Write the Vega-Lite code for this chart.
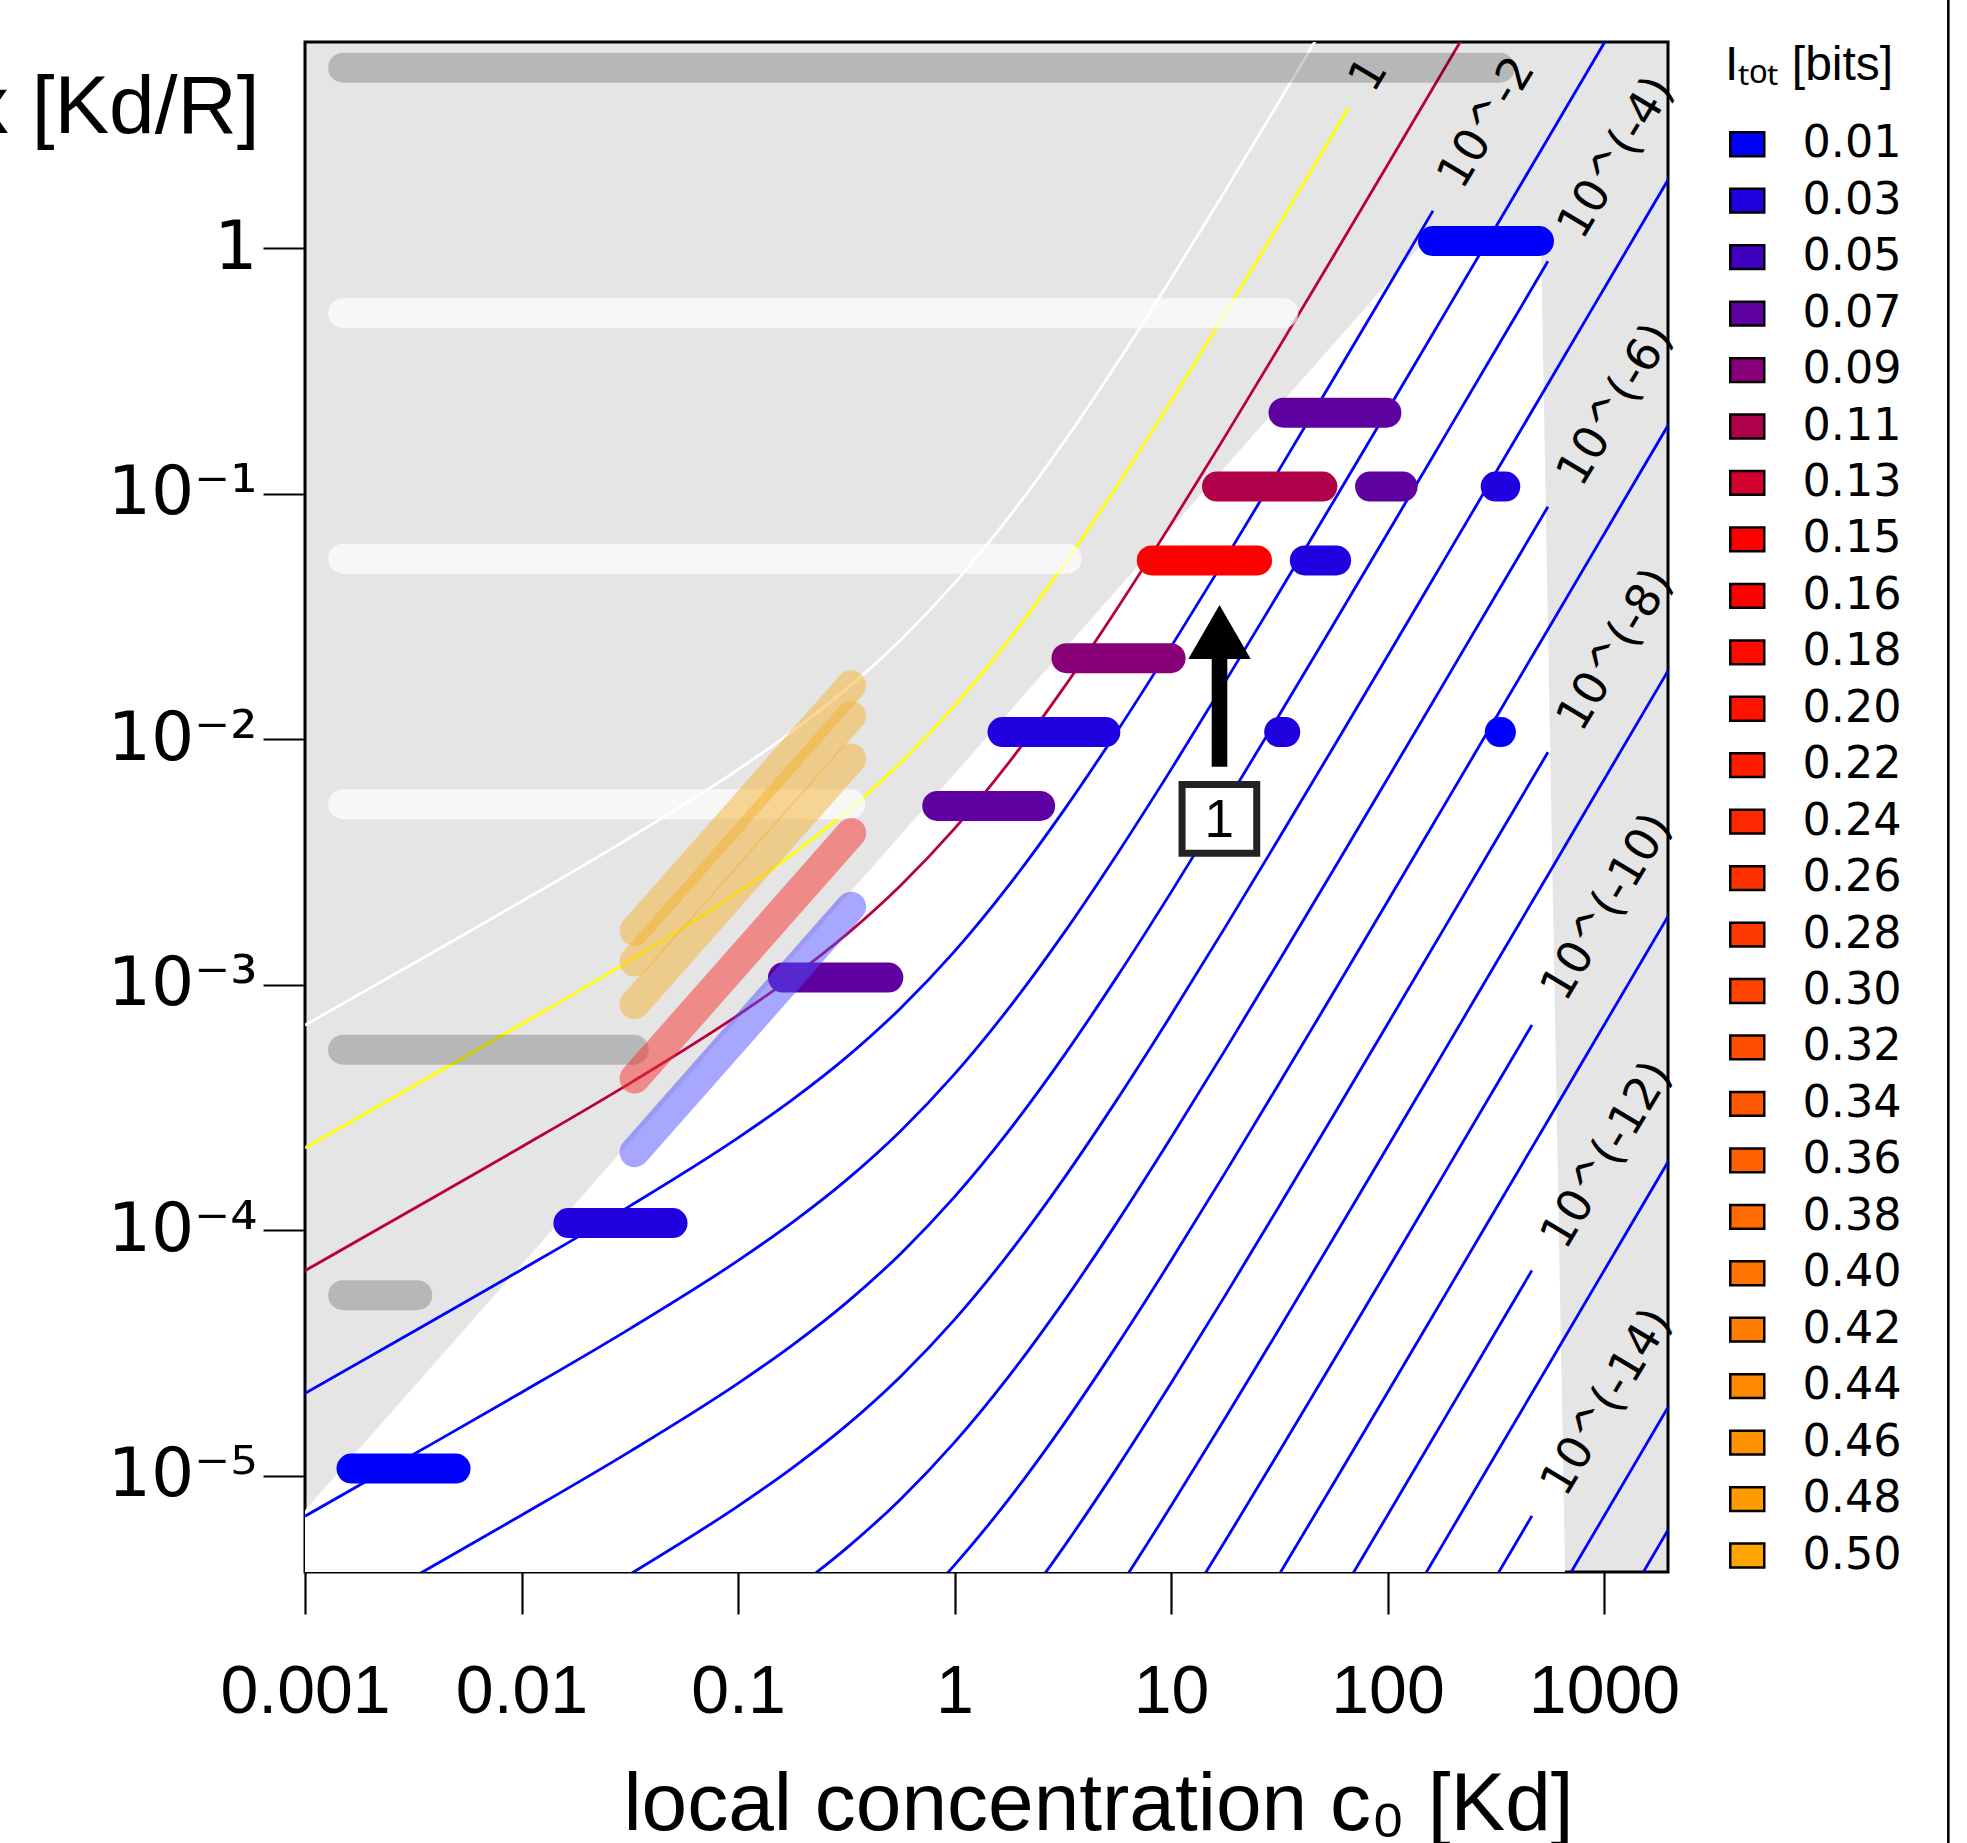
{
"$schema":"https://vega.github.io/schema/vega-lite/v6.json",
"width":1363,"height":1530,
"autosize":{"type":"none"},
"padding":{"left":305,"top":42,"right":299,"bottom":271},
"background":"white",
"config":{
 "font":"Liberation Sans",
 "view":{"fill":"#e5e5e5","stroke":"black","strokeWidth":3},
 "axis":{"grid":false,"domain":false,"tickColor":"black","tickWidth":2.2,"tickSize":42,"labelColor":"black","labelFont":"Liberation Sans","labelFontSize":68,"titleFont":"Liberation Sans","titleFontSize":82,"titleFontWeight":"normal","titleColor":"black"},
 "legend":{"labelFont":"DejaVu Sans","titleFont":"Liberation Sans","labelColor":"black","titleColor":"black"}
},
"resolve":{"legend":{"color":"independent"}},
"datasets":{
 "white":[{"c":0.001,"y":7.234e-6},{"c":147.9,"y":1.07},{"c":511.6,"y":1.07},{"c":660.6,"y":4.055e-6}],
 "contours":[
  {"k":-1,"c":[0.001,0.003162,0.01,0.03162,0.1,0.1778,0.3162,0.5623,1,1.778,3.162,5.623,10,17.78,31.62,56.23,100],"y":[6.846e-4,1.22e-3,2.1842e-3,3.9674e-3,7.523e-3,1.0742e-2,1.6006e-2,2.5339e-2,4.3251e-2,8.013e-2,0.16006,0.33969,0.7523,1.7133,3.9674,9.2824,21.842]},
  {"k":0,"c":[0.001,0.003162,0.01,0.03162,0.1,0.1778,0.3162,0.5623,1,1.778,3.162,5.623,10,17.78,31.62,56.23,66.37],"y":[2.165e-4,3.858e-4,6.907e-4,1.2546e-3,2.379e-3,3.397e-3,5.0615e-3,8.013e-3,1.3677e-2,2.534e-2,5.0615e-2,0.10742,0.2379,0.5418,1.2546,2.9353,3.754]},
  {"k":1,"c":[0.001,0.003162,0.01,0.03162,0.1,0.1778,0.3162,0.5623,1,1.778,3.162,5.623,10,17.78,31.62,56.23,100,177.8,316.2],"y":[6.846e-5,1.22e-4,2.1842e-4,3.9674e-4,7.523e-4,1.0742e-3,1.6006e-3,2.5339e-3,4.3251e-3,8.013e-3,1.6006e-2,3.3969e-2,7.523e-2,0.17133,0.39674,0.92824,2.1842,5.158,12.201]},
  {"k":2,"c":[0.001,0.003162,0.01,0.03162,0.1,0.1778,0.3162,0.5623,1,1.778,3.162,5.623,10,17.78,31.62,56.23,100,162.2],"y":[2.165e-5,3.858e-5,6.907e-5,1.2546e-4,2.379e-4,3.397e-4,5.0615e-4,8.013e-4,1.3677e-3,2.534e-3,5.0615e-3,1.0742e-2,2.379e-2,5.418e-2,0.12546,0.29353,0.6907,1.4213]},
  {"k":3,"c":[0.001,0.003162,0.01,0.03162,0.1,0.1778,0.3162,0.5623,1,1.778,3.162,5.623,10,17.78,31.62,56.23,100,177.8,316.2,562.3,1000,1995],"y":[6.846e-6,1.22e-5,2.1842e-5,3.9674e-5,7.523e-5,1.0742e-4,1.6006e-4,2.5339e-4,4.3251e-4,8.013e-4,1.6006e-3,3.3969e-3,7.523e-3,1.7133e-2,3.9674e-2,9.2824e-2,0.21842,0.5158,1.2201,2.8884,6.8454,19.284]},
  {"k":4,"c":[0.001,0.003162,0.01,0.03162,0.1,0.1778,0.3162,0.5623,1,1.778,3.162,5.623,10,17.78,31.62,56.23,100,177.8,316.2,550.8],"y":[2.165e-6,3.858e-6,6.907e-6,1.2546e-5,2.379e-5,3.397e-5,5.0615e-5,8.013e-5,1.3677e-4,2.534e-4,5.0615e-4,1.0742e-3,2.379e-3,5.418e-3,1.2546e-2,2.9353e-2,6.907e-2,0.16311,0.38583,0.8858]},
  {"k":5,"c":[0.01,0.03162,0.1,0.1778,0.3162,0.5623,1,1.778,3.162,5.623,10,17.78,31.62,56.23,100,177.8,316.2,562.3,1000,1995],"y":[2.1842e-6,3.9674e-6,7.523e-6,1.0742e-5,1.6006e-5,2.5339e-5,4.3251e-5,8.013e-5,1.6006e-4,3.3969e-4,7.523e-4,1.7133e-3,3.9674e-3,9.2824e-3,2.1842e-2,5.158e-2,0.12201,0.28884,0.68454,1.9284]},
  {"k":6,"c":[0.03162,0.1,0.1778,0.3162,0.5623,1,1.778,3.162,5.623,10,17.78,31.62,56.23,100,177.8,316.2,550.8],"y":[1.2546e-6,2.379e-6,3.397e-6,5.0615e-6,8.013e-6,1.3677e-5,2.534e-5,5.0615e-5,1.0742e-4,2.379e-4,5.418e-4,1.2546e-3,2.9353e-3,6.907e-3,1.6311e-2,3.8583e-2,8.858e-2]},
  {"k":7,"c":[0.1778,0.3162,0.5623,1,1.778,3.162,5.623,10,17.78,31.62,56.23,100,177.8,316.2,562.3,1000,1995],"y":[1.0742e-6,1.6006e-6,2.5339e-6,4.3251e-6,8.013e-6,1.6006e-5,3.3969e-5,7.523e-5,1.7133e-4,3.9674e-4,9.2824e-4,2.1842e-3,5.158e-3,1.2201e-2,2.8884e-2,6.8454e-2,0.19284]},
  {"k":8,"c":[0.5623,1,1.778,3.162,5.623,10,17.78,31.62,56.23,100,177.8,316.2,550.8],"y":[8.013e-7,1.3677e-6,2.534e-6,5.0615e-6,1.0742e-5,2.379e-5,5.418e-5,1.2546e-4,2.9353e-4,6.907e-4,1.6311e-3,3.8583e-3,8.858e-3]},
  {"k":9,"c":[1.778,3.162,5.623,10,17.78,31.62,56.23,100,177.8,316.2,562.3,1000,1995],"y":[8.013e-7,1.6006e-6,3.3969e-6,7.523e-6,1.7133e-5,3.9674e-5,9.2824e-5,2.1842e-4,5.158e-4,1.2201e-3,2.8884e-3,6.8454e-3,1.9284e-2]},
  {"k":10,"c":[5.623,10,17.78,31.62,56.23,100,177.8,316.2,464.5],"y":[1.0742e-6,2.379e-6,5.418e-6,1.2546e-5,2.9353e-5,6.907e-5,1.6311e-4,3.8583e-4,6.862e-4]},
  {"k":11,"c":[10,17.78,31.62,56.23,100,177.8,316.2,562.3,1000,1995],"y":[7.523e-7,1.7133e-6,3.9674e-6,9.2824e-6,2.1842e-5,5.158e-5,1.2201e-4,2.8884e-4,6.8454e-4,1.9284e-3]},
  {"k":12,"c":[17.78,31.62,56.23,100,177.8,316.2,464.5],"y":[5.418e-7,1.2546e-6,2.9353e-6,6.907e-6,1.6311e-5,3.8583e-5,6.862e-5]},
  {"k":13,"c":[56.23,100,177.8,316.2,562.3,1000,1995],"y":[9.2824e-7,2.1842e-6,5.158e-6,1.2201e-5,2.8884e-5,6.8454e-5,1.9284e-4]},
  {"k":14,"c":[100,177.8,316.2,464.5],"y":[6.907e-7,1.6311e-6,3.8583e-6,6.862e-6]},
  {"k":15,"c":[177.8,316.2,562.3,1000,1995],"y":[5.158e-7,1.2201e-6,2.8884e-6,6.8454e-6,1.9284e-5]},
  {"k":16,"c":[316.2,562.3,1000,1995],"y":[3.8583e-7,9.134e-7,2.1647e-6,6.098e-6]}
 ],
 "labels":[
  {"lab":"1","c":82.1,"y":5.09},
  {"lab":"10^-2","c":288.2,"y":3.247},
  {"lab":"10^(-4)","c":1140,"y":2.338},
  {"lab":"10^(-6)","c":1130,"y":0.2303},
  {"lab":"10^(-8)","c":1130,"y":0.02312},
  {"lab":"10^(-10)","c":1032,"y":2.073e-3},
  {"lab":"10^(-12)","c":1032,"y":2.023e-4},
  {"lab":"10^(-14)","c":1032,"y":1.993e-5}
 ],
 "shades":[
  {"shade":"dark","c":0.0015,"c2":330,"y":5.44},
  {"shade":"light","c":0.0015,"c2":33,"y":0.544},
  {"shade":"light","c":0.0015,"c2":3.3,"y":0.0544},
  {"shade":"light","c":0.0015,"c2":0.33,"y":0.00544},
  {"shade":"dark","c":0.0015,"c2":0.033,"y":5.44e-4},
  {"shade":"dark","c":0.0015,"c2":0.0033,"y":5.44e-5}
 ],
 "bars":[
  {"I":"0.01","c":0.00164,"c2":0.00496,"y":1.07e-5},
  {"I":"0.03","c":0.01647,"c2":0.04985,"y":1.07e-4},
  {"I":"0.07","c":0.1613,"c2":0.4947,"y":1.07e-3},
  {"I":"0.07","c":0.8325,"c2":2.486,"y":5.35e-3},
  {"I":"0.03","c":1.666,"c2":4.975,"y":1.07e-2},
  {"I":"0.09","c":3.29,"c2":9.956,"y":2.14e-2},
  {"I":"0.15","c":8.151,"c2":25.0,"y":5.35e-2},
  {"I":"0.11","c":16.31,"c2":50.03,"y":0.107},
  {"I":"0.07","c":33.08,"c2":98.8,"y":0.214},
  {"I":"0.07","c":83.06,"c2":117.5,"y":0.107},
  {"I":"0.03","c":41.5,"c2":57.9,"y":5.35e-2},
  {"I":"0.03","c":316,"c2":350,"y":0.107},
  {"I":"0.01","c":330,"c2":334,"y":1.07e-2},
  {"I":"0.03","c":31.6,"c2":33.7,"y":1.07e-2},
  {"I":"0.01","c":162.2,"c2":501,"y":1.07}
 ],
 "diag":[
  {"grp":"orange","c":0.0333,"c2":0.333,"y":1.66e-3,"yb":1.66e-2},
  {"grp":"orange","c":0.0333,"c2":0.333,"y":1.245e-3,"yb":1.245e-2},
  {"grp":"orange","c":0.0333,"c2":0.333,"y":8.33e-4,"yb":8.33e-3},
  {"grp":"red","c":0.0333,"c2":0.333,"y":4.15e-4,"yb":4.15e-3},
  {"grp":"blue","c":0.0333,"c2":0.333,"y":2.08e-4,"yb":2.08e-3}
 ]
},
"layer":[
 {"data":{"name":"white"},
  "mark":{"type":"area","color":"white","clip":true,"opacity":1},
  "encoding":{
   "x":{"field":"c","type":"quantitative","scale":{"type":"log","domain":[0.001,1975],"nice":false},
        "axis":{"values":[0.001,0.01,0.1,1,10,100,1000],"format":"~g","title":"local concentration c₀ [Kd]","labelPadding":44,"labelFlush":false,"labelOverlap":false,"titleX":793,"titleY":257,"titleAlign":"center","titleBaseline":"alphabetic"}},
   "y":{"field":"y","type":"quantitative","scale":{"type":"log","domain":[4.055e-6,6.923],"nice":false},
        "axis":{"values":[0.00001,0.0001,0.001,0.01,0.1,1],"labelExpr":"datum.value > 0.5 ? '1\u2007' : datum.value > 0.05 ? '10⁻¹' : datum.value > 0.005 ? '10⁻²' : datum.value > 0.0005 ? '10⁻³' : datum.value > 0.00005 ? '10⁻⁴' : '10⁻⁵'","labelFont":"DejaVu Sans","labelFontSize":68,"labelPadding":6,"labelFlush":false,"labelOverlap":false,"labelBaseline":"middle","title":"x [Kd/R]","titleAngle":0,"titleAlign":"right","titleBaseline":"alphabetic","titleX":-46,"titleY":90}},
   "y2":{"datum":4.055e-6}
  }},
 {"data":{"name":"bars"},"transform":[{"filter":"false"}],
  "mark":{"type":"point","shape":"square","filled":true,"stroke":"black","strokeWidth":2.5,"opacity":1},
  "encoding":{"x":{"field":"c","type":"quantitative","scale":{"type":"log","domain":[0.001,1975],"nice":false}},
   "y":{"field":"y","type":"quantitative","scale":{"type":"log","domain":[4.055e-6,6.923],"nice":false}},
   "color":{"field":"I","type":"nominal",
    "scale":{"domain":["0.01","0.03","0.05","0.07","0.09","0.11","0.13","0.15","0.16","0.18","0.20","0.22","0.24","0.26","0.28","0.30","0.32","0.34","0.36","0.38","0.40","0.42","0.44","0.46","0.48","0.50"],
             "range":["#0000FF","#2000DF","#4000BF","#5F00A0","#870078","#B0004A","#D2002E","#FF0000","#FF0000","#FF0A00","#FF1300","#FF1D00","#FF2700","#FF3100","#FF3A00","#FF4400","#FF4E00","#FF5700","#FF6100","#FF6B00","#FF7400","#FF7E00","#FF8800","#FF9200","#FF9B00","#FFA500"]},
    "legend":{"title":"Iₜₒₜ [bits]","orient":"none","legendX":1420,"legendY":0,"padding":0,"symbolType":"M-1,-0.7L1,-0.7L1,0.7L-1,0.7Z","symbolSize":1156,"symbolStrokeWidth":2.5,"symbolStrokeColor":"black","labelFontSize":44.5,"titleFontSize":48,"titleFontWeight":"normal","labelOffset":33,"rowPadding":11.45,"titlePadding":32,"labelLimit":400,"titleLimit":400}}}},
 {"data":{"name":"contours"},"transform":[{"flatten":["c","y"]},{"filter":"datum.k == -1"}],
  "mark":{"type":"line","color":"#ffffff","strokeWidth":2.8,"clip":true,"interpolate":"monotone"},
  "encoding":{"x":{"field":"c","type":"quantitative","scale":{"type":"log","domain":[0.001,1975],"nice":false}},
   "y":{"field":"y","type":"quantitative","scale":{"type":"log","domain":[4.055e-6,6.923],"nice":false}},
   "detail":{"field":"k","type":"nominal"}}},
 {"data":{"name":"contours"},"transform":[{"flatten":["c","y"]},{"filter":"datum.k == 0"}],
  "mark":{"type":"line","color":"#ffff00","strokeWidth":2.8,"clip":true,"interpolate":"monotone"},
  "encoding":{"x":{"field":"c","type":"quantitative","scale":{"type":"log","domain":[0.001,1975],"nice":false}},
   "y":{"field":"y","type":"quantitative","scale":{"type":"log","domain":[4.055e-6,6.923],"nice":false}},
   "detail":{"field":"k","type":"nominal"}}},
 {"data":{"name":"contours"},"transform":[{"flatten":["c","y"]},{"filter":"datum.k == 1"}],
  "mark":{"type":"line","color":"#b8003c","strokeWidth":2.8,"clip":true,"interpolate":"monotone"},
  "encoding":{"x":{"field":"c","type":"quantitative","scale":{"type":"log","domain":[0.001,1975],"nice":false}},
   "y":{"field":"y","type":"quantitative","scale":{"type":"log","domain":[4.055e-6,6.923],"nice":false}},
   "detail":{"field":"k","type":"nominal"}}},
 {"data":{"name":"contours"},"transform":[{"flatten":["c","y"]},{"filter":"datum.k >= 2"}],
  "mark":{"type":"line","color":"#0000ff","strokeWidth":2.8,"clip":true,"interpolate":"monotone"},
  "encoding":{"x":{"field":"c","type":"quantitative","scale":{"type":"log","domain":[0.001,1975],"nice":false}},
   "y":{"field":"y","type":"quantitative","scale":{"type":"log","domain":[4.055e-6,6.923],"nice":false}},
   "detail":{"field":"k","type":"nominal"}}},
 {"data":{"name":"labels"},
  "mark":{"type":"text","font":"DejaVu Sans","fontSize":46,"angle":-59,"align":"center","baseline":"middle","color":"black"},
  "encoding":{"x":{"field":"c","type":"quantitative","scale":{"type":"log","domain":[0.001,1975],"nice":false}},
   "y":{"field":"y","type":"quantitative","scale":{"type":"log","domain":[4.055e-6,6.923],"nice":false}},
   "text":{"field":"lab"}}},
 {"data":{"name":"shades"},"transform":[{"filter":"datum.shade == 'dark'"}],
  "mark":{"type":"rule","color":"black","opacity":0.2,"strokeWidth":30,"strokeCap":"round"},
  "encoding":{"x":{"field":"c","type":"quantitative","scale":{"type":"log","domain":[0.001,1975],"nice":false}},"x2":{"field":"c2"},
   "y":{"field":"y","type":"quantitative","scale":{"type":"log","domain":[4.055e-6,6.923],"nice":false}}}},
 {"data":{"name":"shades"},"transform":[{"filter":"datum.shade == 'light'"}],
  "mark":{"type":"rule","color":"white","opacity":0.7,"strokeWidth":30,"strokeCap":"round"},
  "encoding":{"x":{"field":"c","type":"quantitative","scale":{"type":"log","domain":[0.001,1975],"nice":false}},"x2":{"field":"c2"},
   "y":{"field":"y","type":"quantitative","scale":{"type":"log","domain":[4.055e-6,6.923],"nice":false}}}},
 {"data":{"name":"bars"},
  "mark":{"type":"rule","strokeWidth":30,"strokeCap":"round","opacity":1},
  "encoding":{"x":{"field":"c","type":"quantitative","scale":{"type":"log","domain":[0.001,1975],"nice":false}},"x2":{"field":"c2"},
   "y":{"field":"y","type":"quantitative","scale":{"type":"log","domain":[4.055e-6,6.923],"nice":false}},
   "color":{"field":"I","type":"nominal",
    "scale":{"domain":["0.01","0.03","0.05","0.07","0.09","0.11","0.13","0.15","0.16","0.18","0.20","0.22","0.24","0.26","0.28","0.30","0.32","0.34","0.36","0.38","0.40","0.42","0.44","0.46","0.48","0.50"],
             "range":["#0000FF","#2000DF","#4000BF","#5F00A0","#870078","#B0004A","#D2002E","#FF0000","#FF0000","#FF0A00","#FF1300","#FF1D00","#FF2700","#FF3100","#FF3A00","#FF4400","#FF4E00","#FF5700","#FF6100","#FF6B00","#FF7400","#FF7E00","#FF8800","#FF9200","#FF9B00","#FFA500"]},
    "legend":null}}},
 {"data":{"name":"diag"},"transform":[{"filter":"datum.grp == 'orange'"}],
  "mark":{"type":"rule","color":"#F5B12F","opacity":0.5,"strokeWidth":30,"strokeCap":"round"},
  "encoding":{"x":{"field":"c","type":"quantitative","scale":{"type":"log","domain":[0.001,1975],"nice":false}},"x2":{"field":"c2"},
   "y":{"field":"y","type":"quantitative","scale":{"type":"log","domain":[4.055e-6,6.923],"nice":false}},"y2":{"field":"yb"}}},
 {"data":{"name":"diag"},"transform":[{"filter":"datum.grp == 'red'"}],
  "mark":{"type":"rule","color":"#F72F2B","opacity":0.5,"strokeWidth":30,"strokeCap":"round"},
  "encoding":{"x":{"field":"c","type":"quantitative","scale":{"type":"log","domain":[0.001,1975],"nice":false}},"x2":{"field":"c2"},
   "y":{"field":"y","type":"quantitative","scale":{"type":"log","domain":[4.055e-6,6.923],"nice":false}},"y2":{"field":"yb"}}},
 {"data":{"name":"diag"},"transform":[{"filter":"datum.grp == 'blue'"}],
  "mark":{"type":"rule","color":"#4F4FFF","opacity":0.5,"strokeWidth":30,"strokeCap":"round"},
  "encoding":{"x":{"field":"c","type":"quantitative","scale":{"type":"log","domain":[0.001,1975],"nice":false}},"x2":{"field":"c2"},
   "y":{"field":"y","type":"quantitative","scale":{"type":"log","domain":[4.055e-6,6.923],"nice":false}},"y2":{"field":"yb"}}},
 {"data":{"values":[{"c":16.75,"y":7.73e-3,"yb":0.0235}]},
  "mark":{"type":"rule","color":"black","strokeWidth":15.6,"strokeCap":"butt"},
  "encoding":{"x":{"field":"c","type":"quantitative","scale":{"type":"log","domain":[0.001,1975],"nice":false}},
   "y":{"field":"y","type":"quantitative","scale":{"type":"log","domain":[4.055e-6,6.923],"nice":false}},"y2":{"field":"yb"}}},
 {"data":{"values":[{"c":16.75,"y":0.02737}]},
  "mark":{"type":"point","shape":"M-1,0.865L1,0.865L0,-0.865Z","size":3894,"filled":true,"color":"black","opacity":1},
  "encoding":{"x":{"field":"c","type":"quantitative","scale":{"type":"log","domain":[0.001,1975],"nice":false}},
   "y":{"field":"y","type":"quantitative","scale":{"type":"log","domain":[4.055e-6,6.923],"nice":false}}}},
 {"data":{"values":[{"c":16.73,"y":4.737e-3}]},
  "mark":{"type":"point","shape":"M-1,-0.92L1,-0.92L1,0.92L-1,0.92Z","size":5580,"filled":true,"fill":"white","stroke":"#222222","strokeWidth":7,"opacity":1,"fillOpacity":1},
  "encoding":{"x":{"field":"c","type":"quantitative","scale":{"type":"log","domain":[0.001,1975],"nice":false}},
   "y":{"field":"y","type":"quantitative","scale":{"type":"log","domain":[4.055e-6,6.923],"nice":false}}}},
 {"data":{"values":[{"c":16.7,"y":4.645e-3,"t":"1"}]},
  "mark":{"type":"text","font":"Liberation Sans","fontSize":53,"align":"center","baseline":"middle","color":"black"},
  "encoding":{"x":{"field":"c","type":"quantitative","scale":{"type":"log","domain":[0.001,1975],"nice":false}},
   "y":{"field":"y","type":"quantitative","scale":{"type":"log","domain":[4.055e-6,6.923],"nice":false}},"text":{"field":"t"}}},
 {"data":{"values":[{"c":38940,"y":10.27,"yb":3.16e-7}]},
  "mark":{"type":"rule","color":"black","strokeWidth":2.6,"clip":false},
  "encoding":{"x":{"field":"c","type":"quantitative","scale":{"type":"log","domain":[0.001,1975],"nice":false}},
   "y":{"field":"y","type":"quantitative","scale":{"type":"log","domain":[4.055e-6,6.923],"nice":false}},"y2":{"field":"yb"}}}
]
}
